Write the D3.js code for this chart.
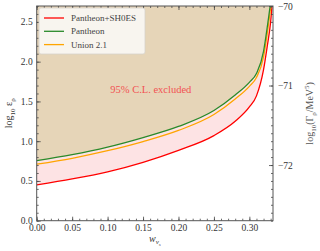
<!DOCTYPE html>
<html>
<head>
<meta charset="utf-8">
<script src="https://cdn.jsdelivr.net/npm/d3@7"></script>
<style>
body { margin: 0; background: #fff; }
text { font-family: "Liberation Serif", "DejaVu Serif", serif; }
</style>
</head>
<body>
<div id="chart"></div>
<script>
var width = 320;
var height = 251;

// readings
var wVals = [0, 0.05, 0.10, 0.15, 0.20, 0.25, 0.28, 0.30, 0.31, 0.32, 0.325, 0.33, 0.3333];
var pantheonShoes = [0.45, 0.525, 0.615, 0.735, 0.885, 1.07, 1.25, 1.43, 1.57, 1.90, 2.18, 2.50, 2.85];
var pantheon = [0.755, 0.83, 0.925, 1.045, 1.185, 1.385, 1.58, 1.74, 1.85, 2.13, 2.42, 2.75, 3.0];
var union21 = [0.71, 0.785, 0.88, 0.995, 1.135, 1.335, 1.53, 1.69, 1.80, 2.06, 2.34, 2.68, 2.95];

var seriesNames = ["Pantheon+SH0ES", "Pantheon", "Union 2.1"];
var seriesColors = ["#ff0000", "#2a8a2a", "#ffa500"];
var xTicks = [0, 0.05, 0.10, 0.15, 0.20, 0.25, 0.30];
var yTicks = [0, 0.5, 1.0, 1.5, 2.0, 2.5];
var y2Ticks = [-72, -71, -70];

var padL = 36.7, padR = 273, padT = 6, padB = 220.7;

var svg = d3.select("#chart")
    .append("svg")
    .attr("width", width)
    .attr("height", height);

var x = d3.scaleLinear().domain([0, 1 / 3]).range([padL, padR]);
var y = d3.scaleLinear().domain([0, 2.7]).range([padB, padT]);
var y2 = d3.scaleLinear().domain([-72.7, -70]).range([padB, padT]);

svg.append("clipPath")
    .attr("id", "clip")
    .append("rect")
    .attr("x", padL).attr("y", padT)
    .attr("width", padR - padL).attr("height", padB - padT);

var plot = svg.append("g").attr("clip-path", "url(#clip)");

function rows(vals) {
    return wVals.map(function(w, i) { return {w: w, v: vals[i]}; });
}

var area = d3.area()
    .x(function(d) { return x(d.w); })
    .y0(padT - 5)
    .y1(function(d) { return y(d.v); })
    .curve(d3.curveMonotoneX);

var line = d3.line()
    .x(function(d) { return x(d.w); })
    .y(function(d) { return y(d.v); })
    .curve(d3.curveMonotoneX);

plot.append("path")
    .datum(rows(pantheonShoes))
    .attr("fill", "#fde3e4")
    .attr("d", area);

plot.append("path")
    .datum(rows(pantheon))
    .attr("fill", "#e6d5b8")
    .attr("d", area);

// draw order: red, orange, green on top
[[pantheonShoes, 0], [union21, 2], [pantheon, 1]].forEach(function(s) {
    plot.append("path")
        .datum(rows(s[0]))
        .attr("fill", "none")
        .attr("stroke", seriesColors[s[1]])
        .attr("stroke-width", 1.3)
        .attr("d", line);
});

svg.append("text")
    .attr("x", x(0.161))
    .attr("y", y(1.6))
    .attr("text-anchor", "middle")
    .attr("fill", "#f25252")
    .attr("font-size", 10.5)
    .text("95% C.L. excluded");

// axes, ticks pointing inwards
function styleAxis(g) {
    g.select(".domain").remove();
    g.selectAll(".tick line").attr("stroke", "#444").attr("stroke-width", 0.8);
    g.selectAll(".tick text").attr("fill", "#333").attr("font-size", 9.5)
        .style("font-family", "'Liberation Serif', serif");
}

var fmt2 = d3.format(".2f");
var minorX = d3.range(0, 0.335, 0.01);
var minorY = d3.range(0, 2.71, 0.1);
var minorY2 = d3.range(-72.7, -69.99, 0.1);

svg.append("g")
    .attr("transform", "translate(0," + padB + ")")
    .call(d3.axisBottom(x).tickValues(xTicks).tickFormat(fmt2).tickSize(-4).tickPadding(4))
    .call(styleAxis);
svg.append("g")
    .attr("transform", "translate(0," + padB + ")")
    .call(d3.axisBottom(x).tickValues(minorX).tickFormat("").tickSize(-2))
    .call(styleAxis);
svg.append("g")
    .attr("transform", "translate(0," + padT + ")")
    .call(d3.axisTop(x).tickValues(xTicks).tickFormat("").tickSize(-4))
    .call(styleAxis);
svg.append("g")
    .attr("transform", "translate(0," + padT + ")")
    .call(d3.axisTop(x).tickValues(minorX).tickFormat("").tickSize(-2))
    .call(styleAxis);

svg.append("g")
    .attr("transform", "translate(" + padL + ",0)")
    .call(d3.axisLeft(y).tickValues(yTicks).tickFormat(d3.format(".1f")).tickSize(-4).tickPadding(4))
    .call(styleAxis);
svg.append("g")
    .attr("transform", "translate(" + padL + ",0)")
    .call(d3.axisLeft(y).tickValues(minorY).tickFormat("").tickSize(-2))
    .call(styleAxis);

svg.append("g")
    .attr("transform", "translate(" + padR + ",0)")
    .call(d3.axisRight(y2).tickValues(y2Ticks).tickFormat(function(d) { return "\u2212" + Math.abs(d); }).tickSize(-4).tickPadding(5))
    .call(styleAxis);
svg.append("g")
    .attr("transform", "translate(" + padR + ",0)")
    .call(d3.axisRight(y2).tickValues(minorY2).tickFormat("").tickSize(-2))
    .call(styleAxis);

svg.append("rect")
    .attr("x", padL).attr("y", padT)
    .attr("width", padR - padL).attr("height", padB - padT)
    .attr("fill", "none")
    .attr("stroke", "#555")
    .attr("stroke-width", 1);

// legend
var lg = svg.append("g").attr("transform", "translate(39,8)");
lg.append("rect")
    .attr("width", 106).attr("height", 46).attr("rx", 2)
    .attr("fill", "#f8f5ef").attr("stroke", "#d6d2cb").attr("stroke-width", 0.8);
seriesNames.forEach(function(name, i) {
    var yy = 10 + i * 13.3;
    lg.append("line")
        .attr("x1", 5).attr("x2", 25).attr("y1", yy).attr("y2", yy)
        .attr("stroke", seriesColors[i]).attr("stroke-width", 1.3);
    lg.append("text")
        .attr("x", 32).attr("y", yy + 3)
        .attr("font-size", 9)
        .attr("fill", "#444")
        .text(name);
});

// axis labels
var yl = svg.append("text")
    .attr("transform", "translate(12," + ((padT + padB) / 2) + ") rotate(-90)")
    .attr("text-anchor", "middle")
    .attr("font-size", 10)
    .attr("fill", "#333");
yl.append("tspan").text("log");
yl.append("tspan").attr("font-size", 7).attr("dy", 2.5).text("10");
yl.append("tspan").attr("dy", -2.5).text(" \u03b5");
yl.append("tspan").attr("font-size", 7).attr("dy", 2.5).text("\u03c1");

var xl = svg.append("text")
    .attr("x", (padL + padR) / 2)
    .attr("y", 242)
    .attr("text-anchor", "middle")
    .attr("font-size", 10)
    .attr("fill", "#333");
xl.append("tspan").attr("font-style", "italic").text("w");
xl.append("tspan").attr("font-size", 7).attr("dy", 2).attr("font-style", "italic").text("\u03bd");
xl.append("tspan").attr("font-size", 5).attr("dy", 1.5).attr("font-style", "italic").text("s");

var rl = svg.append("text")
    .attr("transform", "translate(313," + ((padT + padB) / 2) + ") rotate(-90)")
    .attr("text-anchor", "middle")
    .attr("font-size", 10)
    .attr("fill", "#555");
rl.append("tspan").text("log");
rl.append("tspan").attr("font-size", 7).attr("dy", 2.5).text("10");
rl.append("tspan").attr("dy", -2.5).text("(\u0393");
rl.append("tspan").attr("font-size", 7).attr("dy", 2.5).text("\u03c1");
rl.append("tspan").attr("dy", -2.5).text("/MeV");
rl.append("tspan").attr("font-size", 7).attr("dy", -4).text("5");
rl.append("tspan").attr("dy", 4).text(")");
</script>
</body>
</html>
